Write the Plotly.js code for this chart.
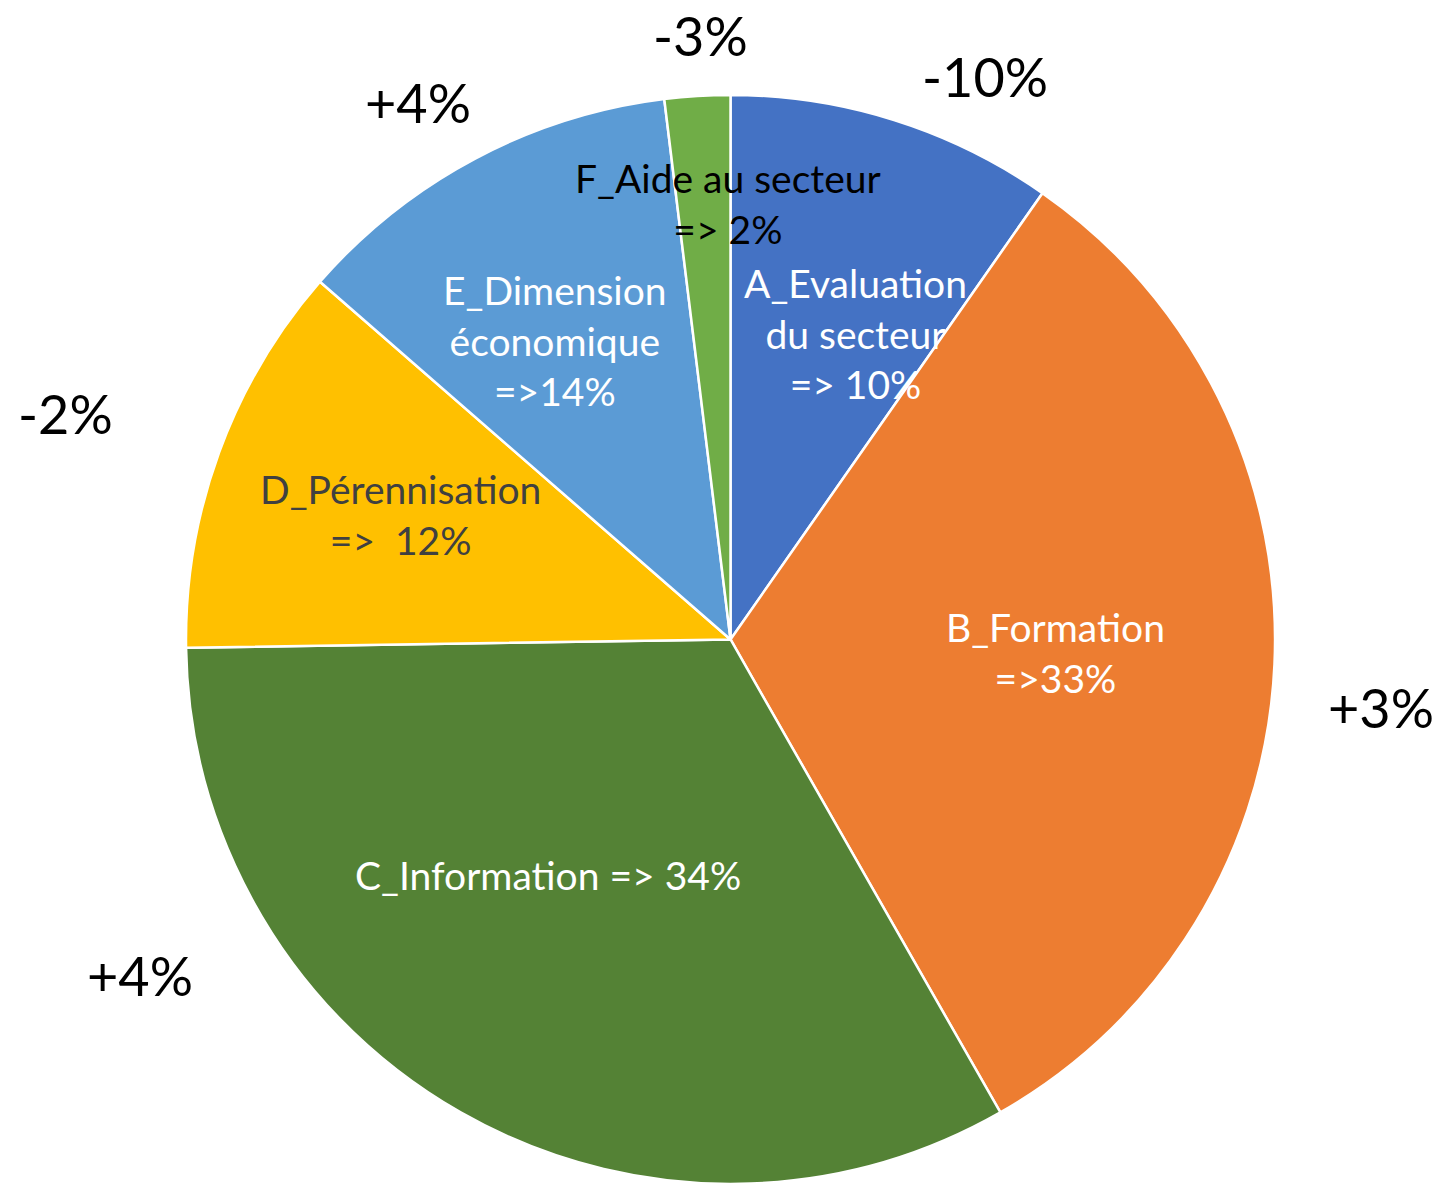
<!DOCTYPE html>
<html>
<head>
<meta charset="utf-8">
<script src="https://cdn.plot.ly/plotly-3.0.1.min.js"></script>
<style>html,body{margin:0;padding:0;background:#fff;}#chart{width:1445px;height:1184px;}</style>
</head>
<body>
<div id="chart"></div>
<script>
const categories = ["A_Evaluation du secteur", "B_Formation", "C_Information", "D_Pérennisation", "E_Dimension économique", "F_Aide au secteur"];
const values = [10, 33, 34, 12, 12, 2];
const sliceLabels = ["A_Evaluation<br>du secteur<br>=> 10%", "B_Formation<br>=>33%", "C_Information => 34%", "D_Pérennisation<br>=>  12%", "E_Dimension<br>économique<br>=>14%", "F_Aide au secteur<br>=> 2%"];
const changeLabels = ["-10%", "+3%", "+4%", "-2%", "+4%", "-3%"];
const colors = ["#4472C4", "#ED7D31", "#548235", "#FFC000", "#5B9BD5", "#70AD47"];
const textColors = ["#FFFFFF", "#FFFFFF", "#FFFFFF", "#404040", "#FFFFFF", "#000000"];

const W = 1445, H = 1184;
const slicePos = [[855, 333], [1055, 652], [548, 875], [400, 514], [555, 340], [728, 204]];
const changePos = [[985, 77], [1381, 707], [140, 975], [65, 413], [418, 103], [700, 35]];

const annotations = [];
categories.forEach((c, i) => {
  annotations.push({
    text: sliceLabels[i], xref: 'paper', yref: 'paper',
    x: slicePos[i][0] / W, y: 1 - slicePos[i][1] / H,
    xanchor: 'center', yanchor: 'middle', showarrow: false, align: 'center',
    font: {family: 'Lato, sans-serif', size: 39, color: textColors[i]}
  });
  annotations.push({
    text: changeLabels[i], xref: 'paper', yref: 'paper',
    x: changePos[i][0] / W, y: 1 - changePos[i][1] / H,
    xanchor: 'center', yanchor: 'middle', showarrow: false,
    font: {family: 'Lato, sans-serif', size: 54, color: '#000000'}
  });
});

const trace = {
  type: 'pie', labels: categories, values: values, sort: false,
  direction: 'clockwise', rotation: 0, textinfo: 'none', hoverinfo: 'label+percent',
  marker: {colors: colors, line: {color: '#FFFFFF', width: 2.5}},
  domain: {x: [0.1284, 0.8827], y: [0, 0.9198]}
};

Plotly.newPlot('chart', [trace], {
  width: W, height: H, margin: {l: 0, r: 0, t: 0, b: 0},
  showlegend: false, paper_bgcolor: '#FFFFFF', annotations: annotations
}, {displayModeBar: false, staticPlot: true});
</script>
</body>
</html>
